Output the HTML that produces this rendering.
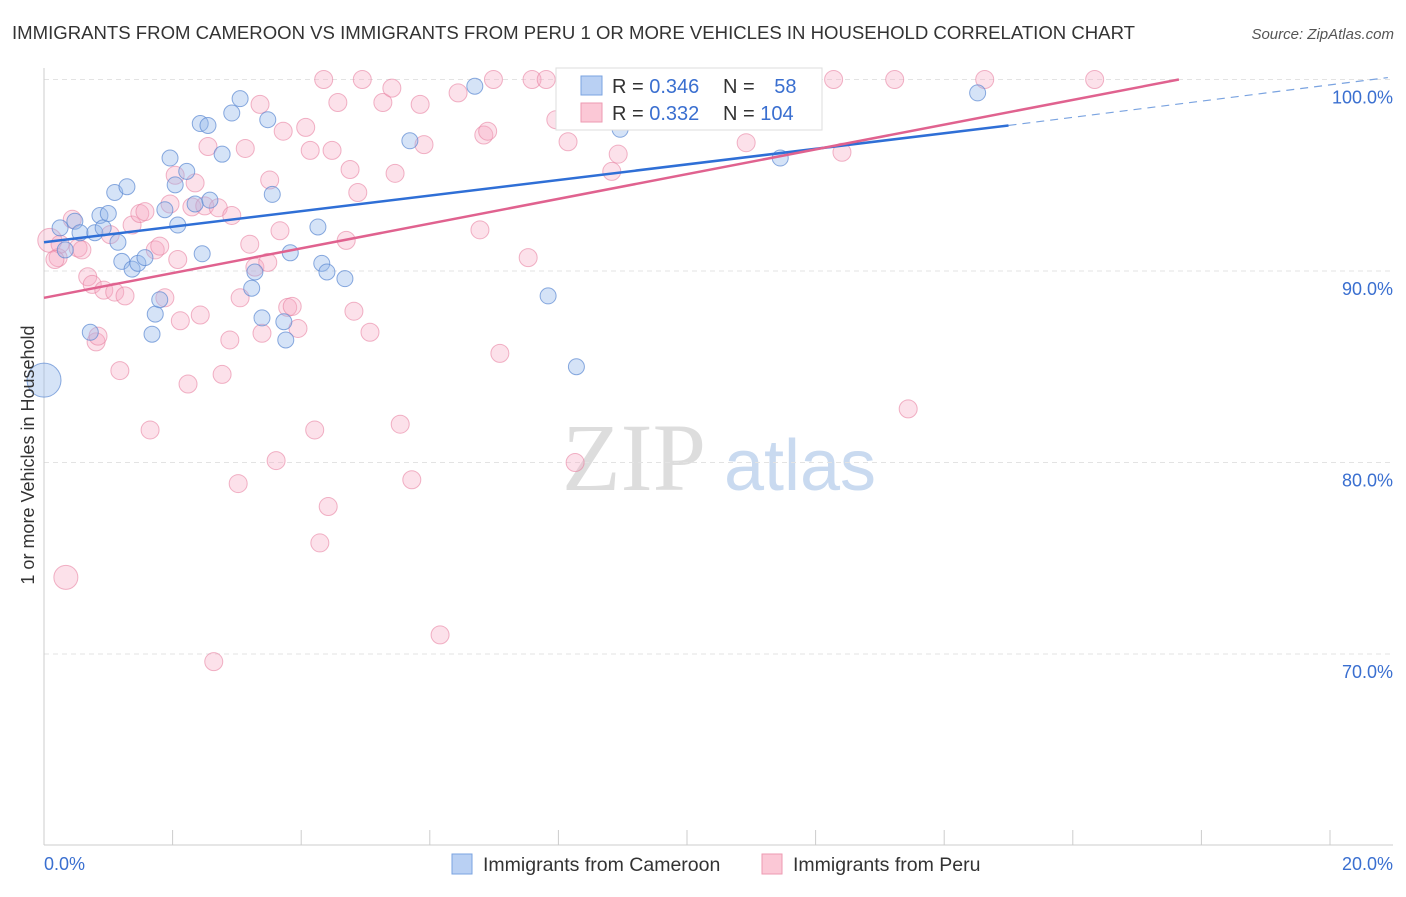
<!DOCTYPE html>
<html><head><meta charset="utf-8"><style>
body{margin:0;background:#fff;font-family:"Liberation Sans",sans-serif;}
</style></head><body>
<svg id="c" width="1406" height="892" xmlns="http://www.w3.org/2000/svg" style="font-family:'Liberation Sans',sans-serif">
<text x="12" y="39" font-size="18" fill="#333" textLength="1123" lengthAdjust="spacingAndGlyphs">IMMIGRANTS FROM CAMEROON VS IMMIGRANTS FROM PERU 1 OR MORE VEHICLES IN HOUSEHOLD CORRELATION CHART</text>
<text x="1394" y="39" font-size="15" fill="#555" font-style="italic" text-anchor="end">Source: ZipAtlas.com</text>
<text x="634" y="490" font-size="96" fill="#ddd" text-anchor="middle" font-family="Liberation Serif">ZIP</text>
<text x="800" y="490" font-size="72" fill="#c9daf0" text-anchor="middle">atlas</text>
<g id="grid"></g><g id="pts"></g><g id="lines"></g>
<text transform="translate(34,455) rotate(-90)" font-size="18" fill="#333" text-anchor="middle">1 or more Vehicles in Household</text>
<text x="44" y="870" font-size="18" fill="#3a6fd0">0.0%</text>
<text x="1393" y="870" font-size="18" fill="#3a6fd0" text-anchor="end">20.0%</text>
<g>
<rect x="556" y="68" width="266" height="62" fill="#fff" stroke="#ddd"/>
<rect x="581" y="76" width="21" height="19" fill="#b9d0f3" stroke="#7aa3e0"/>
<rect x="581" y="103" width="21" height="19" fill="#fbc8d6" stroke="#ee9ab2"/>
<text x="612" y="93" font-size="20" fill="#333">R = <tspan fill="#3a6fd0">0.346</tspan></text>
<text x="723" y="93" font-size="20" fill="#333">N = <tspan fill="#3a6fd0" dx="14">58</tspan></text>
<text x="612" y="120" font-size="20" fill="#333">R = <tspan fill="#3a6fd0">0.332</tspan></text>
<text x="723" y="120" font-size="20" fill="#333">N = <tspan fill="#3a6fd0">104</tspan></text>
</g>
<g>
<rect x="452" y="854" width="20" height="20" fill="#b9d0f3" stroke="#7aa3e0"/>
<text x="483" y="871" font-size="19.5" fill="#333">Immigrants from Cameroon</text>
<rect x="762" y="854" width="20" height="20" fill="#fbc8d6" stroke="#ee9ab2"/>
<text x="793" y="871" font-size="19.5" fill="#333">Immigrants from Peru</text>
</g>
</svg>
<script>
const yTicks=[100,90,80,70];
const yTickLabels=["100.0%","90.0%","80.0%","70.0%"];
const xTicks=[0,2,4,6,8,10,12,14,16,18,20];
const blueX=[0,0.25,0.33,0.48,0.56,0.72,0.79,0.87,0.92,1.0,1.15,1.1,1.21,1.29,1.37,1.46,1.57,1.68,1.73,1.8,1.88,1.96,2.04,2.08,2.22,2.35,2.43,2.46,2.55,2.58,2.77,2.92,3.05,3.23,3.28,3.39,3.48,3.55,3.73,3.76,3.83,4.26,4.32,4.4,4.68,5.69,6.7,7.84,8.28,8.96,11.45,14.52,11.65];
const blueY=[84.3,92.25,91.1,92.6,92.0,86.8,92.0,92.9,92.25,93.0,91.5,94.1,90.5,94.4,90.1,90.4,90.7,86.7,87.75,88.5,93.2,95.9,94.5,92.4,95.2,93.5,97.7,90.9,97.6,93.7,96.1,98.25,99.0,89.1,89.95,87.55,97.9,94.0,87.35,86.4,90.95,92.3,90.4,89.95,89.6,96.8,99.65,88.7,85.0,97.4,95.9,99.3,100.0];
const pinkX=[0.09,0.22,0.44,0.53,0.59,0.68,0.75,0.81,0.84,0.93,1.03,1.1,1.18,1.26,1.37,1.49,1.57,1.65,1.73,1.8,1.88,1.96,2.04,2.08,2.12,2.24,2.3,2.35,2.43,2.5,2.55,2.64,2.71,2.77,2.89,2.92,3.02,3.05,3.13,3.2,3.28,3.36,3.39,3.48,3.51,3.61,3.67,3.72,3.79,3.86,3.95,4.07,4.14,4.21,4.29,4.35,4.42,4.48,4.57,4.7,4.76,4.82,4.88,4.95,5.07,5.27,5.41,5.46,5.54,5.72,5.85,5.91,6.16,6.44,6.78,6.84,6.9,6.99,7.09,7.53,7.59,7.81,7.96,8.15,8.26,8.83,8.93,9.52,10.26,10.92,12.28,12.41,13.23,13.44,14.63,16.34,0.34,0.25,0.17];
const pinkY=[91.6,90.7,92.7,91.2,91.1,89.7,89.3,86.3,86.6,89.0,91.9,88.9,84.8,88.7,92.4,93.0,93.1,81.7,91.1,91.3,88.6,93.5,95.0,90.6,87.4,84.1,93.35,94.6,87.7,93.4,96.5,69.6,93.3,84.6,86.4,92.9,78.9,88.6,96.4,91.4,90.2,98.7,86.75,90.45,94.75,80.1,92.1,97.3,88.1,88.15,87.0,97.5,96.3,81.7,75.8,100.0,77.7,96.3,98.8,91.6,95.3,87.9,94.1,100.0,86.8,98.8,99.55,95.1,82.0,79.1,98.7,96.6,71.0,99.3,92.15,97.1,97.3,100.0,85.7,90.7,100.0,100.0,97.9,96.75,80.0,95.2,96.1,100.0,100.0,96.7,100.0,96.2,100.0,82.8,100.0,100.0,74.0,91.4,90.6];
const blueTrend=[91.5,97.6];const blueTrendEnd=[15.0,20.9];
const pinkTrend=[88.6,100.0];const pinkTrendEnd=17.65;
const X=v=>44+v/20*1286, Y=v=>79.5+(100-v)*19.15;
const NS="http://www.w3.org/2000/svg";
function mk(t,a,p){const e=document.createElementNS(NS,t);for(const k in a)e.setAttribute(k,a[k]);p.appendChild(e);return e;}
const g=document.getElementById('grid');
yTicks.forEach((t,i)=>{
 const l=mk('line',{x1:44,x2:1393,y1:Y(t),y2:Y(t),stroke:'#e3e3e3','stroke-dasharray':'5,4'},g);
 
 
 const tx=mk('text',{x:1393,y:Y(t)+24,'font-size':18,fill:'#3a6fd0','text-anchor':'end'},g);
 tx.textContent=yTickLabels[i];
 
 
});
const ax=mk('line',{x1:44,x2:44,y1:68,y2:845,stroke:'#ccc'},g);


const bx=mk('line',{x1:44,x2:1393,y1:845,y2:845,stroke:'#ccc'},g);


xTicks.forEach(t=>{
 const l=mk('line',{x1:X(t),x2:X(t),y1:830,y2:845,stroke:'#ccc'},g);
 
 
});
const p=document.getElementById('pts');
pinkX.forEach((x,i)=>{
 const c=mk('circle',{cx:X(x),cy:Y(pinkY[i]),r:(i==0||i==96)?12:9,fill:'rgba(246,170,195,0.35)',stroke:'rgba(232,130,162,0.6)','stroke-width':1},p);
 
 
});
blueX.forEach((x,i)=>{
 const c=mk('circle',{cx:X(x),cy:Y(blueY[i]),r:i==0?17:8,fill:'rgba(150,185,235,0.4)',stroke:'rgba(90,135,210,0.7)','stroke-width':1},p);
 
 
});
const L=document.getElementById('lines');
let a=mk('line',{x1:X(0),y1:Y(blueTrend[0]),x2:X(blueTrendEnd[0]),y2:Y(blueTrend[1]),stroke:'#2f6fd6','stroke-width':2.5},L);


a=mk('line',{x1:X(blueTrendEnd[0]),y1:Y(blueTrend[1]),x2:X(blueTrendEnd[1]),y2:Y(100.1),stroke:'#7aa3e0','stroke-width':1.2,'stroke-dasharray':'8,6'},L);


a=mk('line',{x1:X(0),y1:Y(pinkTrend[0]),x2:X(pinkTrendEnd),y2:Y(pinkTrend[1]),stroke:'#e0628f','stroke-width':2.5},L);


</script>
</body></html>
